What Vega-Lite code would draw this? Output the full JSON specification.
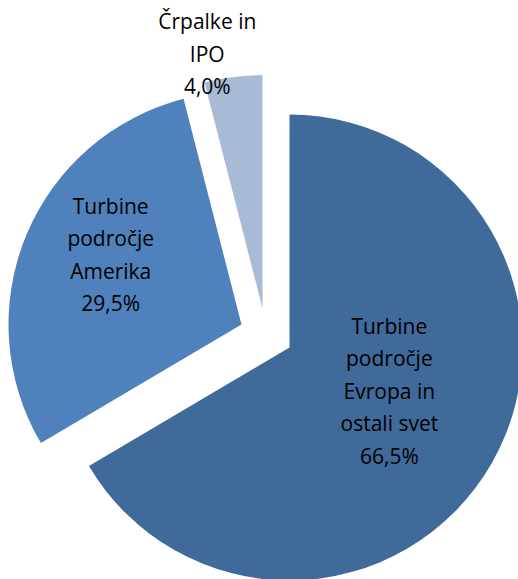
{
  "$schema": "https://vega.github.io/schema/vega-lite/v6.json",
  "width": 518,
  "height": 579,
  "autosize": {"type": "fit", "contains": "padding"},
  "padding": 0,
  "background": "white",
  "view": {"stroke": null},
  "data": {
    "values": [
      {"i": 1, "name": "Turbine področje Evropa in ostali svet", "label": "Turbine\npodročje\nEvropa in\nostali svet\n66,5%", "pct": 66.5},
      {"i": 2, "name": "Turbine področje Amerika", "label": "Turbine\npodročje\nAmerika\n29,5%", "pct": 29.5},
      {"i": 3, "name": "Črpalke in IPO", "label": "Črpalke in\nIPO\n4,0%", "pct": 4.0}
    ]
  },
  "encoding": {
    "theta": {"field": "pct", "type": "quantitative", "stack": true},
    "order": {"field": "i", "type": "quantitative", "sort": "ascending"}
  },
  "layer": [
    {
      "mark": {
        "type": "arc",
        "radius": 233,
        "xOffset": {"expr": "datum.i == 1 ? 35 : datum.i == 2 ? -13 : 8"},
        "yOffset": {"expr": "datum.i == 1 ? 59.5 : datum.i == 2 ? 36.5 : 20.2"}
      },
      "encoding": {
        "color": {
          "field": "name",
          "type": "nominal",
          "scale": {
            "domain": ["Turbine področje Evropa in ostali svet", "Turbine področje Amerika", "Črpalke in IPO"],
            "range": ["#406A9A", "#4F81BD", "#A9BAD7"]
          },
          "legend": null
        }
      }
    },
    {
      "mark": {
        "type": "text",
        "font": "Open Sans",
        "fontSize": 21,
        "lineBreak": "\n",
        "lineHeight": 32.5,
        "align": "center",
        "baseline": "middle",
        "color": "#000000",
        "radius": {"expr": "datum.i == 1 ? 110 : datum.i == 2 ? 147.5 : 257"},
        "xOffset": {"expr": "datum.i == 1 ? 39.3 : datum.i == 2 ? -7.5 : -15"},
        "yOffset": {"expr": "datum.i == 1 ? -14.7 : datum.i == 2 ? -23.7 : -9.7"}
      },
      "encoding": {
        "text": {"field": "label", "type": "nominal"}
      }
    }
  ]
}
